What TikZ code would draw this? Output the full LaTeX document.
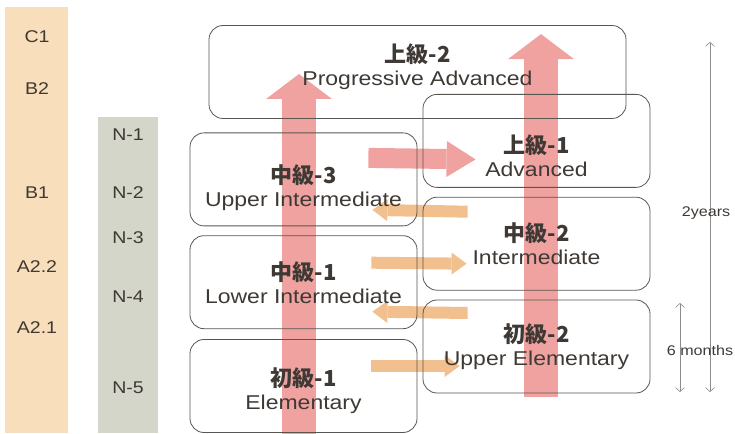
\documentclass[tikz,border=0pt]{standalone}
\usepackage{fontspec}
\setmainfont{Liberation Sans}[FakeStretch=1.15]
\newfontfamily\jpfont{Noto Sans CJK JP}
\usetikzlibrary{positioning,arrows.meta,backgrounds}

\definecolor{cefr}{RGB}{248,222,186}
\definecolor{jlpt}{RGB}{213,214,202}
\definecolor{rosa}{RGB}{240,162,160}
\definecolor{naranja}{RGB}{242,192,142}
\definecolor{tinta}{RGB}{62,57,52}
\definecolor{borde}{RGB}{88,86,80}

\newcommand{\curso}[2]{{\jpfont\bfseries\fontsize{22}{24}\selectfont #1}\\ #2}

\begin{document}
\begin{tikzpicture}[x=1pt, y=1pt,
course/.style={rectangle, draw=borde, line width=0.8pt, rounded corners=14pt, minimum width=227pt, minimum height=93pt, align=center, text=tinta, font=\fontsize{20}{23}\selectfont},
tag/.style={text=tinta, font=\fontsize{17}{17}\selectfont},
note/.style={text=tinta, font=\fontsize{14}{14}\selectfont},
rise/.style={draw=rosa, line width=34pt, -{Triangle[length=25pt, width=66pt, line width=0pt]}},
push/.style={draw=rosa, line width=20pt, -{Triangle[length=29pt, width=36pt, line width=0pt]}},
swap/.style={draw=naranja, line width=12pt, -{Triangle[length=15pt, width=22pt, line width=0pt]}},
span/.style={draw=black!45, line width=0.6pt, {Straight Barb[length=4pt, width=9pt]}-{Straight Barb[length=4pt, width=9pt]}}
]
\useasboundingbox (0,0) rectangle (735,433);

%Columns
\fill[cefr] (5,0) rectangle (68,426);
\fill[jlpt] (98,0) rectangle (158,316);
\node[tag] (c1)   at (37,396) {C1};
\node[tag] (b2)   at (37,344) {B2};
\node[tag] (b1)   at (37,240) {B1};
\node[tag] (a22)  at (37,166) {A2.2};
\node[tag] (a21)  at (37,105) {A2.1};
\node[tag] (n1)   at (128,298) {N-1};
\node[tag] (n2)   at (128,240) {N-2};
\node[tag] (n3)   at (128,195) {N-3};
\node[tag] (n4)   at (128,136) {N-4};
\node[tag] (n5)   at (128,45)  {N-5};

%Nodes
\node[course] (ele)       at (303.5,47)             {\mbox{}\\[6pt]\curso{初級-1}{Elementary}};
\node[course] (lower_mid) [above=10pt of ele]       {\curso{中級-1}{Lower Intermediate}};
\node[course] (upper_mid) [above=9pt of lower_mid]  {\mbox{}\\[12pt]\curso{中級-3}{Upper Intermediate}};
\node[course] (upper_ele) at (536.5,86.5)           {\curso{初級-2}{Upper Elementary}};
\node[course] (mid)       [above=9pt of upper_ele]  {\curso{中級-2}{Intermediate}};
\node[course] (advanced)  [above=9pt of mid]        {\mbox{}\\[26pt]\curso{上級-1}{Advanced}};
\node[course, minimum width=417pt] (prog_adv) at (417.5,361) {\curso{上級-2}{Progressive Advanced}\\[-8pt]};

%Arrows
\begin{pgfonlayer}{background}
\draw[rise] ([xshift=-4.5pt, yshift=-2pt]ele.south)       -- ([xshift=-4.5pt, yshift=-2pt]ele.south |- prog_adv.center);
\draw[rise] ([xshift=4.5pt, yshift=-4pt]upper_ele.south)  -- ([xshift=4.5pt, yshift=-9pt]upper_ele.south |- prog_adv.north);
\draw[push] ([shift={(-49pt,21.5pt)}]upper_mid.east)      -- ([shift={(53pt,-18.5pt)}]advanced.west);
\draw[swap] ([shift={(45pt,32pt)}]mid.west)               -- ([shift={(-45pt,-30.5pt)}]upper_mid.east);
\draw[swap] ([shift={(-46pt,19.5pt)}]lower_mid.east)      -- ([shift={(44pt,-20pt)}]mid.west);
\draw[swap] ([shift={(45pt,33.5pt)}]upper_ele.west)       -- ([shift={(-45pt,-29.5pt)}]lower_mid.east);
\draw[swap] ([shift={(-46pt,20pt)}]ele.east)              -- ([shift={(37pt,-19.5pt)}]upper_ele.west);
\end{pgfonlayer}

%Spans
\coordinate (two_top) at (710,391);
\coordinate (two_bot) at (710,41);
\coordinate (six_top) at (680,130);
\coordinate (six_bot) at (680,41);
\draw[span] (two_top) -- (two_bot);
\draw[span] (six_top) -- (six_bot);
\node[note] (two_lbl) at (706,220) {2years};
\node[note] (six_lbl) at (700,83)  {6 months};

\end{tikzpicture}
\end{document}
